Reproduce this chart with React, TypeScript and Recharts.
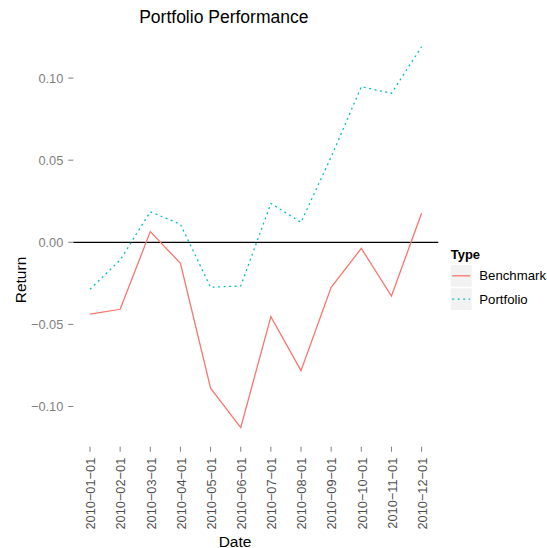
import React from "react";
import {
  LineChart,
  Line,
  XAxis,
  YAxis,
  ReferenceLine,
  Legend,
} from "recharts";

const dates = [
  "2010-01-01",
  "2010-02-01",
  "2010-03-01",
  "2010-04-01",
  "2010-05-01",
  "2010-06-01",
  "2010-07-01",
  "2010-08-01",
  "2010-09-01",
  "2010-10-01",
  "2010-11-01",
  "2010-12-01",
];
const benchmark = [
  -0.0437, -0.0408, 0.0065, -0.0128, -0.0889, -0.1129, -0.0453, -0.0782,
  -0.0274, -0.0037, -0.0327, 0.0177,
];
const portfolio = [
  -0.0286, -0.0108, 0.0186, 0.011, -0.0274, -0.0266, 0.0237, 0.0122, 0.052,
  0.0948, 0.0907, 0.1191,
];
const yTicks = [-0.1, -0.05, 0, 0.05, 0.1];

const data = dates.map((d, i) => ({
  idx: i + 1,
  date: d,
  Benchmark: benchmark[i],
  Portfolio: portfolio[i],
}));

const FONT = '"Liberation Sans", Arial, Helvetica, sans-serif';
const GREY = "#7f7f7f";
const RED = "#F8766D";
const TEAL = "#00BFC4";

const minus = (s: string) => s.replace(/-/g, "\u2212");

function DateTick(props: any) {
  const { x, y, payload } = props;
  const label = dates[payload.value - 1] ?? "";
  return (
    <g transform={`translate(${x + 0.8},${y})`}>
      <text
        transform="rotate(-90)"
        textAnchor="end"
        dy="0.35em"
        fill="#4d4d4d"
        fontSize={12.8}
        fontFamily={FONT}
      >
        {minus(label)}
      </text>
    </g>
  );
}

function TypeLegend() {
  return (
    <svg width={99} height={70} style={{ display: "block" }}>
      <text x={2.7} y={15.3} fontSize={13} fontWeight="bold" fontFamily={FONT}>
        Type
      </text>
      {[
        { name: "Benchmark", color: RED, dash: undefined },
        { name: "Portfolio", color: TEAL, dash: "2 3.5" },
      ].map((k, i) => (
        <g key={k.name} transform={`translate(2.7,${21 + i * 23.3})`}>
          <rect width={21} height={21.7} fill="#f2f2f2" />
          <line
            x1={1.5}
            x2={19.5}
            y1={10.8}
            y2={10.8}
            stroke={k.color}
            strokeWidth={1.3}
            strokeDasharray={k.dash}
          />
          <text
            x={28.6}
            y={10.8}
            dy="0.35em"
            fontSize={13.2}
            fontFamily={FONT}
            fill="#000"
          >
            {k.name}
          </text>
        </g>
      ))}
    </svg>
  );
}

export default function App() {
  return (
    <div
      style={{
        position: "absolute",
        left: 0,
        top: 0,
        width: 547,
        height: 548,
        background: "#fff",
        fontFamily: FONT,
      }}
    >
      <LineChart
        width={547}
        height={548}
        data={data}
        margin={{ top: 27.7, right: 108.7, bottom: 0, left: 0 }}
      >
        <XAxis
          dataKey="idx"
          type="number"
          domain={[0.446, 12.554]}
          ticks={data.map((d) => d.idx)}
          interval={0}
          height={101.3}
          axisLine={false}
          tickSize={5}
          tickMargin={6}
          tickLine={{ stroke: GREY }}
          tick={<DateTick />}
        />
        <YAxis
          type="number"
          domain={[-0.1245, 0.1307]}
          ticks={yTicks}
          width={73.3}
          axisLine={false}
          tickSize={5}
          tickMargin={5}
          tickLine={{ stroke: GREY }}
          tick={{ fill: GREY, fontSize: 12.8, fontFamily: FONT }}
          tickFormatter={(v: number) => minus(v.toFixed(2))}
        />
        <ReferenceLine y={0} stroke="#000" strokeWidth={1.2} />
        <Line
          type="linear"
          dataKey="Benchmark"
          stroke={RED}
          strokeWidth={1.3}
          dot={false}
          isAnimationActive={false}
        />
        <Line
          type="linear"
          dataKey="Portfolio"
          stroke={TEAL}
          strokeWidth={1.3}
          strokeDasharray="2 3.5"
          dot={false}
          isAnimationActive={false}
        />
        <Legend
          layout="vertical"
          align="center"
          verticalAlign="middle"
          content={<TypeLegend />}
          wrapperStyle={{ left: 448, top: 244, width: 99 }}
        />
      </LineChart>
      <svg
        width={547}
        height={548}
        style={{ position: "absolute", left: 0, top: 0, pointerEvents: "none" }}
      >
        <text x={223.8} y={23} textAnchor="middle" fontSize={17.5} fontFamily={FONT}>
          Portfolio Performance
        </text>
        <text
          x={235}
          y={546.5}
          textAnchor="middle"
          fontSize={15.5}
          fontFamily={FONT}
        >
          Date
        </text>
        <text
          transform="translate(26,280) rotate(-90)"
          textAnchor="middle"
          fontSize={15.5}
          fontFamily={FONT}
        >
          Return
        </text>
      </svg>
    </div>
  );
}
